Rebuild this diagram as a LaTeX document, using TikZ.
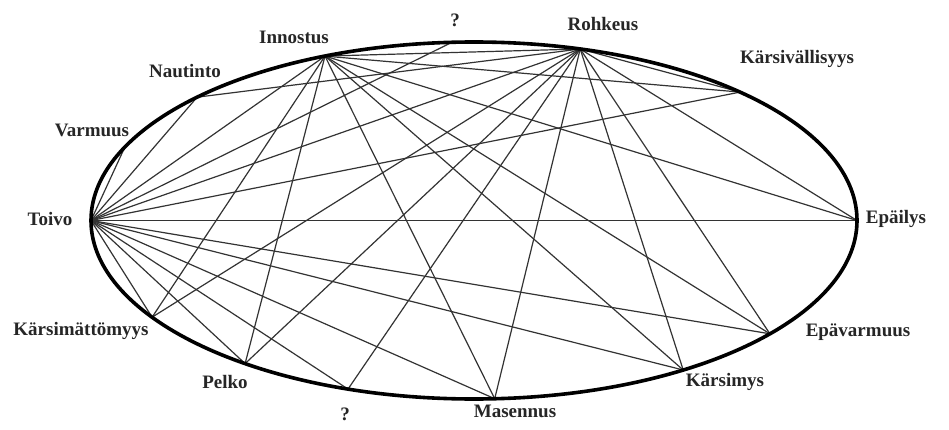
\documentclass[tikz,border=0pt]{standalone}
\usepackage{fontspec}
\setmainfont{Liberation Serif}
\begin{document}
\begin{tikzpicture}[x=1pt,y=1pt,
  lbl/.style={font=\fontsize{19}{21}\selectfont\bfseries, text=black!85, inner sep=0pt},
  chord/.style={draw=black!80, line width=1.2pt},
  rim/.style={draw=black, line width=3.6pt}]
\useasboundingbox[fill=white] (0,0) rectangle (949,429);
% points on the ellipse
\coordinate (T)  at (91,208.5);
\coordinate (V)  at (124.9,282.0);
\coordinate (N)  at (197.1,331.8);
\coordinate (I)  at (325.0,372.9);
\coordinate (Q1) at (452.0,386.7);
\coordinate (R)  at (580.2,380.0);
\coordinate (K)  at (740.1,336.9);
\coordinate (E)  at (857,208.5);
\coordinate (EV) at (769.9,95.2);
\coordinate (KS) at (683.2,59.0);
\coordinate (M)  at (494.7,30.3);
\coordinate (Q2) at (348.0,39.9);
\coordinate (P)  at (245.1,65.4);
\coordinate (KM) at (152.1,111.8);
% chords
\foreach \a in {V,N,I,Q1,R,K,E,EV,KS,M,Q2,P,KM} \draw[chord] (T) -- (\a);
\foreach \a in {R,K,E,EV,KS,M,P,KM} \draw[chord] (I) -- (\a);
\foreach \a in {N,K,E,EV,KS,M,Q2,P,KM} \draw[chord] (R) -- (\a);
% rim
\draw[rim] (474,208.5) ellipse [x radius=383, y radius=178.5];
% labels
\node[lbl] (lI)  at (294,392) {Innostus};
\node[lbl] (lQ1) at (455,409) {?};
\node[lbl] (lN)  at (185,358) {Nautinto};
\node[lbl] (lV)  at (92,299) {Varmuus};
\node[lbl] (lT)  at (50,210) {Toivo};
\node[lbl] (lR)  at (603,405) {Rohkeus};
\node[lbl] (lK)  at (797,370) {Kärsivällisyys};
\node[lbl] (lE)  at (896,210) {Epäilys};
\node[lbl] (lEV) at (858,97) {Epävarmuus};
\node[lbl] (lKS) at (725,47) {Kärsimys};
\node[lbl] (lM)  at (515,18) {Masennus};
\node[lbl] (lQ2) at (345,15) {?};
\node[lbl] (lP)  at (225,47) {Pelko};
\node[lbl] (lKM) at (81,98) {Kärsimättömyys};
\end{tikzpicture}
\end{document}
